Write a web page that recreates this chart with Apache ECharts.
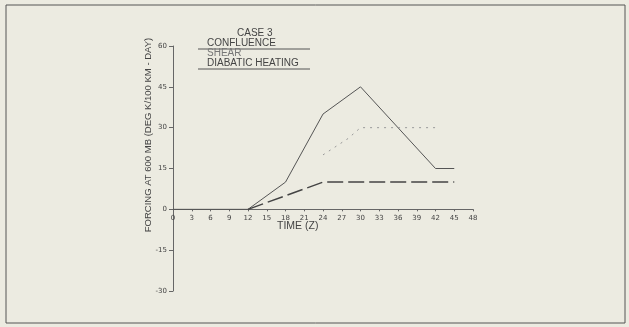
<!DOCTYPE html>
<html><head><meta charset="utf-8">
<script src="https://cdn.jsdelivr.net/npm/echarts@6/dist/echarts.min.js"></script>
<style>html,body{margin:0;padding:0;background:#ecebe1;}#c{width:629px;height:327px;}</style>
</head><body><div id="c"></div>
<script>
const xTicks = [0,3,6,9,12,15,18,21,24,27,30,33,36,39,42,45,48];
const confluence = [[0,0],[12,0],[18,10],[24,35],[30,45],[42,15],[45,15]];
const shear = [[24,20],[28,26],[30,30],[42,30]];
const diabatic = [[12,0],[24,10],[45,10]];
const seriesNames = ['CONFLUENCE','SHEAR','DIABATIC HEATING'];

const chart = echarts.init(document.getElementById('c'));
const txt = '#444';
const lab = {color:txt, fontFamily:'DejaVu Sans', fontSize:7};
const gridTop = 46, gridBottom = 36, H = 327 - gridTop - gridBottom;
const yMin = -30, yMax = 60;
const zeroOffset = -H * (0 - yMin) / (yMax - yMin);
const lf = '10px "Liberation Sans"';
chart.setOption({
  backgroundColor:'#ecebe1',
  animation:false,
  grid:{left:173, right:156, top:gridTop, bottom:gridBottom},
  xAxis:{type:'value', min:0, max:48, interval:3,
    position:'bottom', offset:zeroOffset,
    axisLine:{onZero:false, lineStyle:{color:'#666', width:1}},
    axisTick:{show:true, length:2, lineStyle:{color:'#666'}},
    axisLabel:{...lab, margin:5},
    splitLine:{show:false}
  },
  yAxis:{type:'value', min:yMin, max:yMax, interval:15,
    axisLine:{show:true, lineStyle:{color:'#666', width:1}},
    axisTick:{show:true, length:4, lineStyle:{color:'#666'}},
    axisLabel:{...lab, margin:6},
    splitLine:{show:false}
  },
  series:[
    {name:seriesNames[0], type:'line', data:confluence, symbol:'none',
     lineStyle:{color:'#555', width:1}},
    {name:seriesNames[1], type:'line', data:shear, symbol:'none',
     lineStyle:{color:'#999', width:1, type:[2,5]}},
    {name:seriesNames[2], type:'line', data:diabatic, symbol:'none',
     lineStyle:{color:'#444', width:1.5, type:[16,5]}}
  ],
  graphic:[
    {type:'rect', shape:{x:6, y:5, width:619, height:318}, style:{fill:'none', stroke:'#555', lineWidth:1}},
    {type:'text', left:237, top:28, style:{text:'CASE 3', fill:txt, font:lf}},
    {type:'text', left:207, top:38, style:{text:seriesNames[0], fill:txt, font:lf}},
    {type:'line', shape:{x1:198, y1:49, x2:310, y2:49}, style:{stroke:'#555', lineWidth:1}},
    {type:'text', left:207, top:48, style:{text:seriesNames[1], fill:'#777', font:lf}},
    {type:'text', left:207, top:58, style:{text:seriesNames[2], fill:txt, font:lf}},
    {type:'line', shape:{x1:198, y1:69, x2:310, y2:69}, style:{stroke:'#555', lineWidth:1}},
    {type:'text', left:277, top:221, style:{text:'TIME (Z)', fill:txt, font:'10.5px "Liberation Sans"'}},
    {type:'text', x:148, y:135, rotation:Math.PI/2,
     style:{text:'FORCING AT 600 MB (DEG K/100 KM - DAY)', fill:txt, font:'9.5px "Liberation Sans"', align:'center', verticalAlign:'middle'}}
  ]
});
</script></body></html>
